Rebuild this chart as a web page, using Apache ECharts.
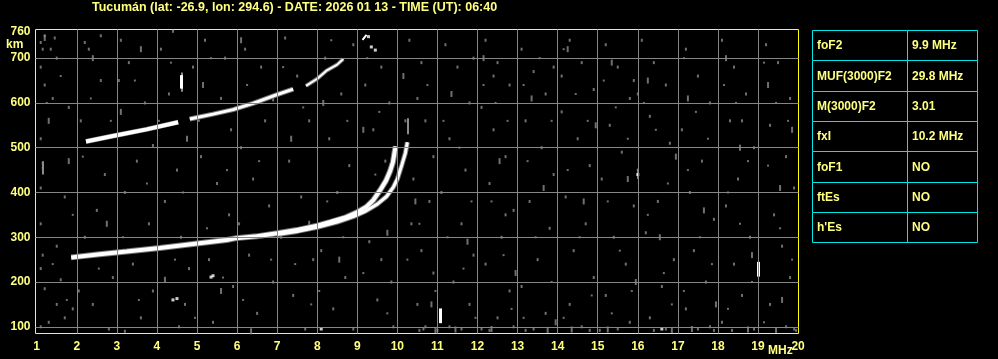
<!DOCTYPE html>
<html><head><meta charset="utf-8">
<script src="https://cdn.jsdelivr.net/npm/echarts@6/dist/echarts.min.js"></script>
<style>html,body{margin:0;padding:0;background:#000;}#c{width:998px;height:359px;}</style>
</head><body><div id="c"></div>
<script>
const titleText = 'Tucumán (lat: -26.9, lon: 294.6) - DATE: 2026 01 13 - TIME (UT): 06:40';
const freqTicks = [1,2,3,4,5,6,7,8,9,10,11,12,13,14,15,16,17,18,19,20];
const heightTicks = [100,200,300,400,500,600,700,760];
const heightGrid = [100,200,300,400,500,600,700];
const freqGrid = [2,3,4,5,6,7,8,9,10,11,12,13,14,15,16,17,18,19];

const tableLabels = ['foF2','MUF(3000)F2','M(3000)F2','fxI','foF1','ftEs',"h'Es"];
const tableValues = ['9.9 MHz','29.8 MHz','3.01','10.2 MHz','NO','NO','NO'];

// F2 ordinary trace (MHz, km)
const traceO = [[1.86,255],[2.57,262],[3.24,268],[4.07,276],[4.9,285],[5.74,294],[5.98,298],[6.49,302],[7.0,309],[7.49,316],[8.0,326],[8.32,334],[8.7,344],[8.98,355],[9.23,368],[9.4,383],[9.57,405],[9.72,427],[9.82,448],[9.89,468],[9.94,495],[9.96,503]];
// F2 extraordinary trace
const traceX = [[7.0,306],[7.5,313],[8.0,322],[8.5,334],[8.9,346],[9.2,358],[9.5,374],[9.73,391],[9.9,412],[10.0,430],[10.11,461],[10.2,488],[10.25,512]];
// second-hop F2 trace, segments
const trace2F_a = [[2.23,514],[2.9,526],[3.74,541],[4.53,557]];
const trace2F_b = [[4.82,564],[5.4,575],[5.9,585],[6.4,599],[6.98,618],[7.4,631]];
const trace2F_c = [[7.72,638],[8.0,654],[8.23,672],[8.49,685],[8.65,698]];
const trace2F_d = [[9.13,741],[9.23,752]];
// short bright echoes (vertical blips)
const blips = [
  [[4.6,632],[4.6,662]],
  [[11.07,108],[11.07,141]],
  [[19.0,212],[19.0,245]]
];
const grayBlips = [
  [[10.25,530],[10.25,566]],
  [[4.62,625],[4.62,668]],
  [[16.0,430],[16.0,452]],
  [[1.15,440],[1.15,470]]
];
const brightDots = [[5.4,214],[5.35,211],[4.5,163],[4.4,160],[16.0,440],[16.6,95],[8.1,95],[9.28,748],[9.45,718],[9.35,725]];
// background noise (MHz, km)
const noise = [
 [1.1,735],[1.2,750],[1.45,745],[1.15,720],[1.1,680],[1.2,640],[1.1,520],[1.15,465],[1.15,455],[1.1,410],[1.1,330],[1.15,260],[1.1,230],[1.2,185],[1.5,150],[1.7,120],[1.1,100],[1.3,110],[1.6,205],[1.7,390],[1.4,610],[1.8,590],[1.5,280],[1.9,140],[1.35,720],[1.5,700],
 [2.1,560],[2.2,735],[2.3,720],[2.6,650],[2.7,440],[2.5,360],[2.2,300],[2.9,210],[2.4,150],[2.8,95],[2.6,750],[2.05,180],
 [3.1,740],[3.3,690],[3.7,600],[3.5,470],[3.2,400],[3.8,330],[3.4,240],[3.9,180],[3.6,120],[3.2,90],[3.9,505],[3.05,650],
 [4.1,720],[4.3,620],[4.5,450],[4.2,380],[4.6,300],[4.8,230],[4.55,100],[4.7,150],[4.9,680],[4.4,760],
 [5.2,740],[5.7,700],[5.1,480],[5.5,420],[5.8,350],[5.3,250],[5.9,190],[5.4,110],[5.6,610],[5.85,540],
 [6.2,720],[6.6,680],[6.1,500],[6.4,430],[6.8,370],[6.3,260],[6.9,200],[6.5,130],[6.7,560],[6.05,330],
 [7.2,745],[7.5,660],[7.8,560],[7.3,470],[7.6,390],[7.9,250],[7.4,170],[7.7,95],[7.1,300],
 [8.2,700],[8.6,620],[8.3,520],[8.8,460],[8.5,400],[8.1,270],[8.7,210],[8.4,140],[8.9,95],[8.9,730],
 [9.6,680],[9.8,600],[9.4,540],[9.7,470],[9.3,290],[9.6,250],[9.85,200],[9.5,160],[9.9,100],[9.2,640],
 [10.3,740],[10.6,690],[10.5,610],[10.7,560],[10.4,430],[10.8,380],[10.35,330],[10.6,270],[10.9,220],[10.5,150],[10.7,100],[10.2,560],[10.9,480],[10.55,92],[10.65,95],
 [11.2,730],[11.5,680],[11.8,600],[11.3,520],[11.7,450],[11.1,400],[11.6,330],[11.9,260],[11.4,200],[11.8,150],[11.3,100],[11.6,95],[11.9,700],[11.0,92],
 [12.2,740],[12.5,690],[12.8,640],[12.1,590],[12.4,540],[12.7,480],[12.3,420],[12.9,360],[12.6,300],[12.2,240],[12.8,180],[12.5,120],[12.1,95],[12.9,100],[12.4,660],[12.7,350],[12.3,92],
 [13.1,720],[13.4,670],[13.7,620],[13.2,560],[13.6,500],[13.9,440],[13.3,380],[13.8,320],[13.5,250],[13.1,190],[13.7,130],[13.4,95],[13.9,680],[13.2,92],
 [14.3,740],[14.6,690],[14.9,630],[14.1,580],[14.5,520],[14.8,460],[14.2,390],[14.7,330],[14.4,270],[14.9,210],[14.3,150],[14.6,100],[14.1,660],[14.8,92],
 [15.2,730],[15.5,680],[15.8,610],[15.3,550],[15.6,490],[15.1,430],[15.9,370],[15.4,300],[15.7,240],[15.2,170],[15.8,110],[15.5,95],[15.9,650],[15.05,92],
 [16.1,740],[16.4,690],[16.7,640],[16.3,570],[16.8,510],[16.0,450],[16.5,380],[16.2,310],[16.9,250],[16.6,190],[16.3,120],[16.7,95],[16.0,620],[16.4,92],
 [17.2,720],[17.5,660],[17.8,600],[17.1,540],[17.6,470],[17.3,400],[17.9,340],[17.4,270],[17.7,200],[17.2,140],[17.8,100],[17.5,95],[17.9,92],
 [18.1,740],[18.4,680],[18.7,620],[18.3,560],[18.9,500],[18.5,430],[18.2,370],[18.8,300],[18.4,240],[18.6,170],[18.1,110],[18.9,95],[18.6,560],[18.35,92],
 [19.2,730],[19.5,690],[19.8,610],[19.3,550],[19.7,480],[19.9,410],[19.4,350],[19.6,280],[19.8,210],[19.3,150],[19.7,100],[19.9,95],[19.95,92]
];
// taller vertical noise streaks (MHz, km)
const noiseBars = [
 [1.2,745],[1.3,560],[1.8,470],[2.4,700],[2.75,330],[3.1,580],[3.6,720],[4.2,205],[4.75,520],[5.15,640],[5.6,180],[6.1,740],[6.35,90],[6.9,610],[7.35,520],[7.8,330],[8.15,600],[8.55,250],[9.15,540],[9.75,310],[10.15,660],[10.45,380],[10.85,150],[11.35,620],[11.75,290],[12.15,700],[12.55,470],[12.95,220],[13.35,610],[13.65,410],[13.95,110],[14.25,720],[14.65,380],[14.95,550],[15.35,690],[15.75,430],[15.95,200],[16.25,650],[16.55,300],[16.95,480],[17.25,610],[17.65,360],[17.95,150],[18.2,700],[18.55,500],[18.85,260],[19.25,640],[19.55,410],[19.85,540],[19.6,160],
 [12.35,95],[13.75,93],[15.25,94],[16.85,93],[17.35,95],[18.75,94],[19.45,93],[11.45,94],[10.95,93],[14.35,94]
];
const noise2 = [
 [1.6,660],[1.25,600],[1.9,350],[1.4,240],[1.75,160],[2.35,610],[2.15,480],[2.85,560],[2.55,230],[3.45,650],[3.75,420],[3.15,300],[3.55,160],[4.35,690],[4.05,560],[4.65,400],[4.45,250],[4.95,120],[5.35,700],[5.05,560],[5.75,450],[5.25,320],[5.65,210],[6.25,640],[6.55,470],[6.85,250],[6.15,160],[7.15,680],[7.65,590],[7.45,240],[7.85,150],[8.35,740],[8.75,560],[8.25,380],[8.65,300],[8.05,180],[9.25,700],[9.55,580],[9.45,440],[9.15,220],[9.75,130],
 [10.15,470],[10.75,640],[10.55,330],[10.25,250],[10.95,180],[11.15,560],[11.55,500],[11.85,380],[11.25,300],[11.65,230],[11.95,120],[12.15,640],[12.45,600],[12.75,560],[12.35,380],[12.65,260],[12.85,140],[13.15,640],[13.55,700],[13.85,560],[13.25,470],[13.45,300],[13.85,200],[13.15,120],
 [14.15,720],[14.45,620],[14.75,560],[14.25,450],[14.55,300],[14.85,170],[14.15,120],[15.15,650],[15.45,590],[15.75,520],[15.25,380],[15.55,270],[15.85,180],[15.35,130],[16.15,600],[16.45,540],[16.75,420],[16.25,350],[16.65,220],[16.85,150],
 [17.15,700],[17.45,580],[17.75,520],[17.25,450],[17.55,300],[17.85,240],[17.15,180],[18.15,640],[18.45,600],[18.75,470],[18.25,400],[18.55,330],[18.85,200],[18.25,140],[19.15,690],[19.45,600],[19.75,560],[19.25,460],[19.55,320],[19.85,250],[19.15,110]
];

const TXT = '#ffff80';
const FONT = 'Liberation Sans, Arial, sans-serif';

const chart = echarts.init(document.getElementById('c'), null, {renderer:'canvas'});

function lineSeries(data, width, color, z){
  return {type:'line', data:data, showSymbol:false, symbol:'none', z:z, silent:true,
    lineStyle:{color:color, width:width}, animation:false};
}

const tableGraphics = [];
const tx0 = 812, tx1 = 907, tx2 = 977, ty0 = 30, rh = 30.33;
tableLabels.forEach((lab, i) => {
  const y = Math.round(ty0 + i*rh);
  const y2 = Math.round(ty0 + (i+1)*rh);
  tableGraphics.push({type:'rect', shape:{x:tx0+0.5, y:y+0.5, width:tx1-tx0, height:y2-y}, style:{fill:'none', stroke:'#00e5e5', lineWidth:1}});
  tableGraphics.push({type:'rect', shape:{x:tx1+0.5, y:y+0.5, width:tx2-tx1, height:y2-y}, style:{fill:'none', stroke:'#00e5e5', lineWidth:1}});
  tableGraphics.push({type:'text', x:tx0+5, y:(y+y2)/2+1, style:{text:lab, fill:TXT, font:'bold 12px '+FONT, textVerticalAlign:'middle'}});
  tableGraphics.push({type:'text', x:tx1+5, y:(y+y2)/2+1, style:{text:tableValues[i], fill:TXT, font:'bold 12px '+FONT, textVerticalAlign:'middle'}});
});

const option = {
  backgroundColor:'#000',
  animation:false,
  title:{text:titleText, left:92, top:1, padding:0, textStyle:{color:TXT, fontSize:12.5, fontWeight:'bold', fontFamily:FONT}},
  grid:{left:35.5, right:199.5, top:29.5, bottom:25.5, show:true, borderColor:'#ffff00', borderWidth:1, backgroundColor:'#000'},
  xAxis:{type:'value', min:0.97, max:20.01,
    axisLine:{show:false}, axisTick:{show:false}, splitLine:{show:false},
    axisLabel:{customValues:freqTicks, color:TXT, fontSize:12, fontWeight:'bold', fontFamily:FONT, margin:7}},
  yAxis:{type:'value', min:85, max:764,
    axisLine:{show:false}, axisTick:{show:false}, splitLine:{show:false},
    axisLabel:{customValues:heightTicks, color:TXT, fontSize:12, fontWeight:'bold', fontFamily:FONT, margin:5}},
  graphic:[
    {type:'text', left:6, top:39, style:{text:'km', fill:TXT, font:'bold 12px '+FONT}},
    {type:'text', left:768, top:345, style:{text:'MHz', fill:TXT, font:'bold 12px '+FONT}}
  ].concat(tableGraphics),
  series:[
    {type:'line', data:[], silent:true, z:1,
     markLine:{silent:true, symbol:'none', label:{show:false}, animation:false,
       lineStyle:{color:'#868686', width:1, type:'solid'},
       data: heightGrid.map(v=>({yAxis:v})).concat(freqGrid.map(v=>({xAxis:v})))}},
    {type:'scatter', data:noise, symbol:'rect', symbolSize:[2,3], itemStyle:{color:'#8c8c8c'}, z:2, silent:true},
    {type:'scatter', data:noise2, symbol:'rect', symbolSize:[2,2], itemStyle:{color:'#8c8c8c'}, z:2, silent:true},
    {type:'scatter', data:noiseBars, symbol:'rect', symbolSize:[2,6], itemStyle:{color:'#8c8c8c'}, z:2, silent:true},
    {type:'scatter', data:brightDots, symbol:'rect', symbolSize:[3,3], itemStyle:{color:'#ffffff'}, z:3, silent:true},
    lineSeries(traceO, 6, '#777777', 3),
    lineSeries(traceX, 5, '#777777', 3),
    lineSeries(trace2F_a, 5, '#777777', 3),
    lineSeries(trace2F_b, 5, '#777777', 3),
    lineSeries(trace2F_c, 4, '#777777', 3),
    lineSeries(traceO, 4, '#ffffff', 4),
    lineSeries(traceX, 3, '#ffffff', 4),
    lineSeries(trace2F_a, 4, '#ffffff', 4),
    lineSeries(trace2F_b, 3, '#ffffff', 4),
    lineSeries(trace2F_c, 2, '#ffffff', 4),
    lineSeries(trace2F_d, 2, '#ffffff', 4),
    {type:'lines', coordinateSystem:'cartesian2d', silent:true, z:2,
     data: grayBlips.map(c=>({coords:c})), lineStyle:{color:'#8c8c8c', width:2, opacity:1}, effect:{show:false}},
    {type:'lines', coordinateSystem:'cartesian2d', silent:true, z:4,
     data: blips.map(c=>({coords:c})), lineStyle:{color:'#ffffff', width:3, opacity:1}, effect:{show:false}}
  ]
};
chart.setOption(option);
</script></body></html>
